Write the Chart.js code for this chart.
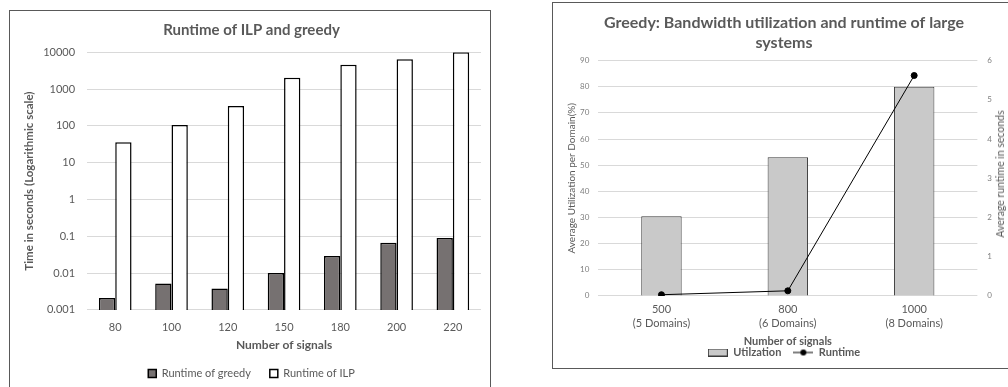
<!DOCTYPE html>
<html>
<head>
<meta charset="utf-8">
<script src="https://cdn.jsdelivr.net/npm/chart.js@4.4.1/dist/chart.umd.min.js"></script>
<style>
  html, body { margin:0; padding:0; background:#ffffff; width:1008px; height:387px; overflow:hidden; }
  .box { position:absolute; border:1px solid #595959; background:#fff; }
  #boxL { left:9px; top:10px; width:480px; height:390px; }
  #boxR { left:552px; top:2px; width:470px; height:365px; }
  canvas { position:absolute; left:0; top:0; }
  #rTitle { position:absolute; left:1000px; top:174px; transform:translate(-50%,-50%) rotate(-90deg);
            font-family: Lato, "Open Sans", sans-serif; font-size:10.5px; color:#595959; white-space:nowrap; }
</style>
</head>
<body>
<div class="box" id="boxL"><canvas id="cL" width="480" height="378"></canvas></div>
<div class="box" id="boxR"><canvas id="cR" width="455" height="365"></canvas></div>
<div id="rTitle">Average runtime in seconds</div>
<script>
// ---------- Left chart data ----------
const signalCounts = ['80', '100', '120', '150', '180', '200', '220'];
const greedyRuntime = [0.0021, 0.0052, 0.0038, 0.010, 0.029, 0.067, 0.09];
const ilpRuntime = [36, 105, 350, 2050, 4600, 6500, 10000];
const logTicks = [0.001, 0.01, 0.1, 1, 10, 100, 1000, 10000];

// ---------- Right chart data ----------
const largeSystems = [['500', '(5 Domains)'], ['800', '(6 Domains)'], ['1000', '(8 Domains)']];
const utilization = [30.5, 53, 80];
const avgRuntime = [0.03, 0.13, 5.62];

const FONT = 'Lato, "Open Sans", sans-serif';
const GRID = '#d9d9d9';
const TXT = '#595959';
Chart.defaults.font.family = FONT;
Chart.defaults.color = TXT;
Chart.defaults.animation = false;

new Chart(document.getElementById('cL'), {
  type: 'bar',
  data: {
    labels: signalCounts,
    datasets: [
      { label: 'Runtime of greedy', data: greedyRuntime, backgroundColor: '#767171', borderColor: '#000', borderWidth: 1.5, categoryPercentage: 0.58, barPercentage: 1.0, inflateAmount: 0 },
      { label: 'Runtime of ILP', data: ilpRuntime, backgroundColor: '#ffffff', borderColor: '#000', borderWidth: 1.5, categoryPercentage: 0.58, barPercentage: 1.0, inflateAmount: 0 }
    ]
  },
  options: {
    responsive: false,
    layout: { padding: { top: 9, left: 12, right: 9, bottom: 0 } },
    plugins: {
      title: { display: true, text: 'Runtime of ILP and greedy', color: TXT, font: { size: 15, weight: 'bold' }, padding: { top: 1.5, bottom: 12.8 } },
      legend: { position: 'bottom', labels: { boxWidth: 8, boxHeight: 8, color: TXT, font: { size: 11 }, padding: 19 } },
      tooltip: { enabled: false }
    },
    scales: {
      x: {
        grid: { display: false, drawTicks: false },
        border: { display: false },
        ticks: { color: TXT, font: { size: 11 }, padding: 11 },
        title: { display: true, text: 'Number of signals', color: TXT, font: { size: 12, weight: 'bold' }, padding: { top: -6.8, bottom: -3.7 } }
      },
      y: {
        type: 'logarithmic',
        min: 0.001, max: 10000,
        afterBuildTicks: (s) => { s.ticks = logTicks.map(v => ({ value: v })); },
        grid: { color: GRID, drawTicks: false },
        border: { display: false },
        ticks: { color: TXT, font: { size: 11 }, padding: 12, callback: (v) => String(v) },
        title: { display: true, text: 'Time in seconds (Logarithmic scale)', color: TXT, font: { size: 11.5, weight: 'bold' }, padding: { top: 0, bottom: -4.6 } }
      }
    }
  }
});

function makeBarMarker() {
  const c = document.createElement('canvas'); c.width = 20; c.height = 8;
  const g = c.getContext('2d');
  g.fillStyle = '#c9c9c9'; g.fillRect(1, 1, 18, 6);
  g.strokeStyle = '#3a3a3a'; g.lineWidth = 1; g.strokeRect(0.5, 0.5, 19, 7);
  return c;
}
function makeLineMarker() {
  const c = document.createElement('canvas'); c.width = 20; c.height = 8;
  const g = c.getContext('2d');
  g.strokeStyle = '#000'; g.lineWidth = 1;
  g.beginPath(); g.moveTo(0, 4); g.lineTo(20, 4); g.stroke();
  g.fillStyle = '#000'; g.beginPath(); g.arc(10, 4, 3, 0, Math.PI * 2); g.fill();
  return c;
}
const markers = [makeBarMarker(), makeLineMarker()];

new Chart(document.getElementById('cR'), {
  type: 'bar',
  data: {
    labels: largeSystems,
    datasets: [
      { type: 'bar', label: 'Utilzation', data: utilization, yAxisID: 'y', backgroundColor: '#c9c9c9', borderColor: '#3a3a3a', borderWidth: 1, categoryPercentage: 0.32, barPercentage: 1.0, order: 2 },
      { type: 'line', label: 'Runtime', data: avgRuntime, yAxisID: 'y1', borderColor: '#000', backgroundColor: '#000', borderWidth: 1, pointRadius: 3, pointBackgroundColor: '#000', tension: 0, order: 1 }
    ]
  },
  options: {
    responsive: false,
    layout: { padding: { top: 9, left: 13, right: 6, bottom: 0 } },
    plugins: {
      title: { display: true, text: ['Greedy: Bandwidth utilization and runtime of large', 'systems'], color: TXT, font: { size: 16, weight: 'bold', lineHeight: 1.3 }, padding: { top: 0, bottom: 7 } },
      legend: {
        position: 'bottom',
        labels: {
          usePointStyle: true, pointStyleWidth: 20, boxHeight: 8, color: TXT, font: { size: 11, weight: 'bold' }, padding: 12,
          sort: (a, b) => a.datasetIndex - b.datasetIndex,
          generateLabels: (chart) => {
            const items = Chart.defaults.plugins.legend.labels.generateLabels(chart);
            items.forEach((it) => { it.pointStyle = markers[it.datasetIndex]; });
            return items;
          }
        }
      },
      tooltip: { enabled: false }
    },
    scales: {
      x: {
        grid: { display: false, drawTicks: false },
        border: { display: false },
        ticks: { color: TXT, font: { size: 11, lineHeight: 1.25 }, padding: 7.1 },
        title: { display: true, text: 'Number of signals', color: TXT, font: { size: 11, weight: 'bold' }, padding: { top: -2.7, bottom: -13.1 } }
      },
      y: {
        position: 'left',
        min: 0, max: 90,
        ticks: { stepSize: 10, color: '#7f7f7f', font: { size: 8 }, padding: 9 },
        grid: { color: GRID, drawTicks: false },
        border: { display: false },
        title: { display: true, text: 'Average Utilization per Domain(%)', color: TXT, font: { size: 10 }, padding: { top: 0, bottom: -7 } }
      },
      y1: {
        position: 'right',
        min: 0, max: 6,
        ticks: { stepSize: 1, color: '#7f7f7f', font: { size: 8 }, padding: 10 },
        grid: { display: false, drawTicks: false },
        border: { display: false },
        title: { display: false }
      }
    }
  }
});
</script>
</body>
</html>
